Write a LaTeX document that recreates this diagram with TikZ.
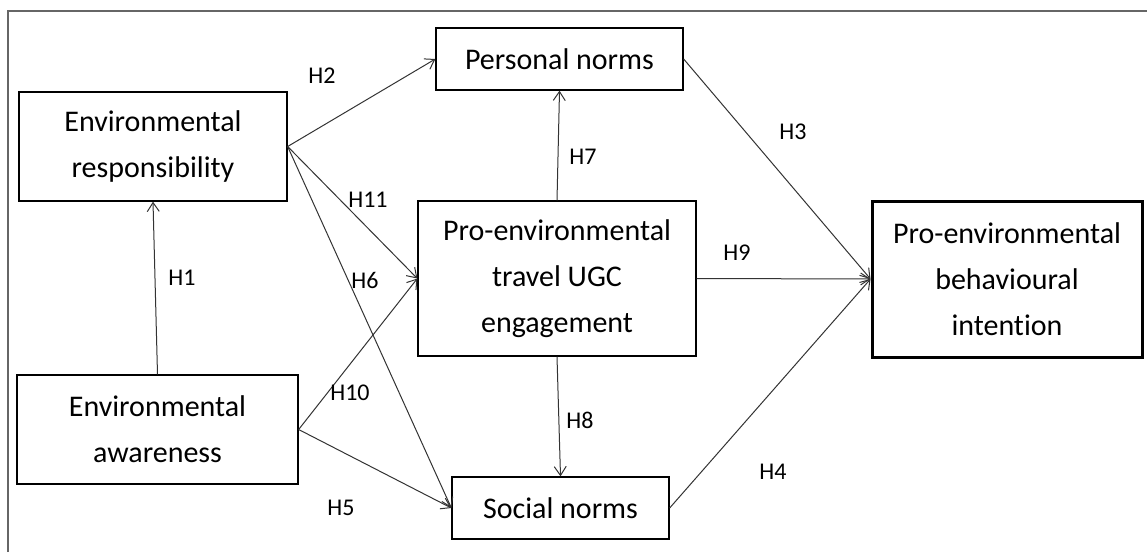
\documentclass[tikz,border=0pt]{standalone}
\usepackage{fontspec}
\setmainfont{Carlito}[Ligatures=NoCommon]
\usetikzlibrary{arrows.meta}

\tikzset{
  construct/.style={draw, line width=1.3pt, align=center, inner sep=0pt,
    font=\fontsize{30}{46}\selectfont},
  hyp/.style={font=\fontsize{24}{26}\selectfont, inner sep=0pt},
  path/.style={draw=black!80, line width=1pt, -{Straight Barb[length=9pt,width=12pt,line width=1pt]}}
}

\begin{document}
\begin{tikzpicture}[x=1pt, y=-1pt]
      \useasboundingbox (0,0) rectangle (1147,552);
      \draw[black!60, line width=1.5pt] (8,552) -- (8,11) -- (1147,11);
      \node[construct, minimum width=268pt, minimum height=109pt] (resp) at (153,146.5) {Environmental\\responsibility};
      \node[construct, minimum width=281pt, minimum height=109pt] (aware) at (157.5,429.5) {Environmental\\awareness};
      \node[construct, minimum width=247pt, minimum height=62pt] (pn) at (559.5,59) {Personal norms};
      \node[construct, minimum width=278pt, minimum height=155pt] (ugc) at (557,278.5) {Pro-environmental\\travel UGC\\engagement};
      \node[construct, minimum width=217pt, minimum height=62pt] (sn) at (560.5,508) {Social norms};
      \node[construct, line width=3pt, minimum width=270pt, minimum height=156pt] (bi) at (1007,279) {Pro-environmental\\behavioural\\intention};
      \foreach \a/\b in {aware.north/resp.south, resp.east/pn.west, resp.east/ugc.west, resp.east/sn.west,
            aware.east/ugc.west, aware.east/sn.west, ugc.north/pn.south, ugc.south/sn.north,
            pn.east/bi.west, ugc.east/bi.west, sn.east/bi.west} {
            \draw[path] (\a) -- (\b);
      }
      \foreach \h/\x/\y in {1/182/278, 2/322/76, 3/793/132, 4/773/472, 5/341/508, 6/365/280,
            7/583/157, 8/580/420, 9/737/253, 10/350/393, 11/368/200} {
            \node[hyp] (h\h) at (\x,\y) {H\h};
      }
\end{tikzpicture}
\end{document}
